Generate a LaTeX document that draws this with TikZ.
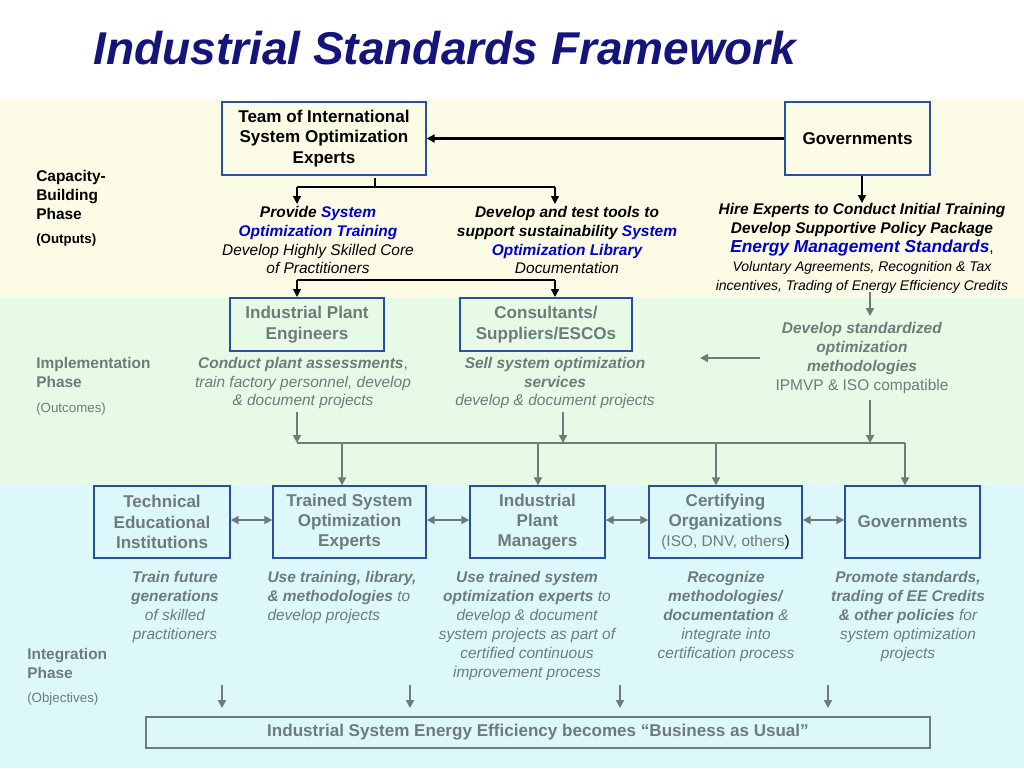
\documentclass[tikz,border=0pt]{standalone}
\usepackage{fontspec}
\setmainfont{Liberation Sans}
\usetikzlibrary{arrows.meta}
\definecolor{tgrey}{HTML}{6E7B7B}
\definecolor{bblue}{HTML}{2850A0}
\definecolor{hblue}{HTML}{0000CC}
\definecolor{navy}{HTML}{14147A}
\definecolor{byel}{HTML}{FCFCE6}
\definecolor{bgrn}{HTML}{E6FAE6}
\definecolor{bcyan}{HTML}{DDF8FB}
\newcommand{\tl}{\fontsize{11.6}{14.2}\selectfont}
\newcommand{\bl}{\fontsize{12.8}{15.2}\selectfont}
\tikzset{
 box/.style={draw=bblue,line width=1pt,fill=none,align=center,font=\bl\bfseries,text=tgrey,inner sep=1pt},
 tbox/.style={box,text=black},
 txt/.style={align=center,font=\tl,text=tgrey,inner sep=0pt},
 ktxt/.style={txt,text=black},
 lbl/.style={align=left,anchor=north west,font=\tl,text=tgrey,inner sep=0pt},
 ga/.style={draw=tgrey,line width=1.3pt,-{Triangle[length=6pt,width=6pt]}},
 gl/.style={draw=tgrey,line width=1.3pt},
 ka/.style={draw=black,line width=1pt,-{Triangle[length=6pt,width=6pt]}},
 kl/.style={draw=black,line width=1pt},
 da/.style={draw=tgrey,line width=1.3pt,{Triangle[length=6pt,width=6pt]}-{Triangle[length=6pt,width=6pt]}}
}
\begin{document}
\begin{tikzpicture}[x=0.75pt,y=-0.75pt]
\useasboundingbox (0,0) rectangle (1024,768);
\fill[white] (0,0) rectangle (1024,768);
\fill[byel] (0,100) rectangle (1024,298);
\fill[bgrn] (0,298) rectangle (1024,485);
\fill[bcyan] (0,485) rectangle (1024,768);
\node[font=\fontsize{34.5}{38}\selectfont\bfseries\itshape,text=navy] (title) at (445,48) {Industrial Standards Framework};
% top
\node[tbox,minimum width=204*0.75pt,minimum height=73*0.75pt] (team) at (324,138.5) {Team of International\\System Optimization\\Experts};
\node[tbox,minimum width=145*0.75pt,minimum height=73*0.75pt] (gov1) at (857.5,138.5) {Governments};
\draw[ka,line width=1.6pt] (gov1.west) -- (team.east|-gov1.west);
\node[lbl,text=black,font=\tl\bfseries] (cb) at (36,170) {Capacity-\\Building\\Phase};
\node[lbl,text=black,font=\fontsize{10}{12}\selectfont\bfseries] (outp) at (36,234) {(Outputs)};
\coordinate (t0) at (375,178);
\coordinate (t1) at (297,187);
\coordinate (t2) at (555,187);
\node[ktxt] (c1) at (318,240) {\textbf{\itshape Provide \textcolor{hblue}{System}}\\\textbf{\itshape\textcolor{hblue}{Optimization Training}}\\\itshape Develop Highly Skilled Core\\\itshape of Practitioners};
\node[ktxt] (c2) at (567,240) {\textbf{\itshape Develop and test tools to}\\\textbf{\itshape support sustainability \textcolor{hblue}{System}}\\\textbf{\itshape\textcolor{hblue}{Optimization Library}}\\\itshape Documentation};
\node[ktxt] (c3) at (862,248) {\textbf{\itshape Hire Experts to Conduct Initial Training}\\\textbf{\itshape Develop Supportive Policy Package}\\{\fontsize{13}{14.2}\selectfont\bfseries\itshape\textcolor{hblue}{Energy Management Standards}},\\{\fontsize{10.5}{14.2}\selectfont\itshape Voluntary Agreements, Recognition \& Tax}\\{\fontsize{10.5}{14.2}\selectfont\itshape incentives, Trading of Energy Efficiency Credits}};
\draw[kl] (t0) -- (375,187);
\draw[kl] (t1) -- (t2);
\draw[ka] (t1) -- (297,204);
\draw[ka] (t2) -- (555,204);
\draw[ka] (gov1.south-|862,0) -- (862,203);
% implementation
\node[box,minimum width=154*0.75pt,minimum height=53*0.75pt] (ipe) at (307,324.5) {Industrial Plant\\Engineers};
\node[box,minimum width=172*0.75pt,minimum height=53*0.75pt] (cons) at (546,324.5) {Consultants/\\Suppliers/ESCOs};
\coordinate (m1) at (297,280);
\coordinate (m2) at (555,280);
\draw[kl] (m1) -- (m2);
\draw[ka] (m1) -- (297,297);
\draw[ka] (m2) -- (555,297);
\node[lbl,font=\tl\bfseries] (imp) at (36,357) {Implementation\\Phase};
\node[lbl,font=\fontsize{10}{12}\selectfont] (outc) at (36,403) {(Outcomes)};
\node[txt] (d1) at (303,383) {\textbf{\itshape Conduct plant assessments},\\\itshape train factory personnel, develop\\\itshape \& document projects};
\node[txt] (d2) at (555,383) {\textbf{\itshape Sell system optimization}\\\textbf{\itshape services}\\\itshape develop \& document projects};
\node[txt] (d3) at (862,358) {\textbf{\itshape Develop standardized}\\\textbf{\itshape optimization}\\\textbf{\itshape methodologies}\\IPMVP \& ISO compatible};
\coordinate (r0) at (870,292);
\draw[ga] (r0) -- (870,316);
\coordinate (la) at (760,358);
\draw[ga] (la) -- (700,358);
\coordinate (h1) at (297,443);
\coordinate (h2) at (905,443);
\draw[ga] (297,412) -- (h1);
\draw[ga] (563,412) -- (563,443);
\draw[ga] (870,400) -- (870,443);
\draw[gl] (h1) -- (h2);
% integration boxes
\node[box,minimum width=136*0.75pt,minimum height=72*0.75pt] (tech) at (162,522) {Technical\\Educational\\Institutions};
\node[box,minimum width=153*0.75pt,minimum height=72*0.75pt] (trn) at (349.5,522) {Trained System\\Optimization\\Experts};
\node[box,minimum width=135*0.75pt,minimum height=72*0.75pt] (ipm) at (537.5,522) {Industrial\\Plant\\Managers};
\node[box,minimum width=153*0.75pt,minimum height=72*0.75pt] (cert) at (725.5,522) {Certifying\\Organizations\\{\mdseries\tl (ISO, DNV, others\textcolor{black}{)}}};
\node[box,minimum width=135*0.75pt,minimum height=72*0.75pt] (gov2) at (912.5,522) {Governments};
\draw[ga] (342,443) -- (trn.north-|342,0);
\draw[ga] (538,443) -- (ipm.north-|538,0);
\draw[ga] (716,443) -- (cert.north-|716,0);
\draw[ga] (905,443) -- (gov2.north-|905,0);
\draw[da] (tech.east|-0,520) -- (trn.west|-0,520);
\draw[da] (trn.east|-0,520) -- (ipm.west|-0,520);
\draw[da] (ipm.east|-0,520) -- (cert.west|-0,520);
\draw[da] (cert.east|-0,520) -- (gov2.west|-0,520);
\node[txt,anchor=north] (e1) at (175,571) {\textbf{\itshape Train future}\\\textbf{\itshape generations}\\\itshape of skilled\\\itshape practitioners};
\node[txt,anchor=north,align=left] (e2) at (342,571) {\textbf{\itshape Use training, library,}\\\textbf{\itshape \& methodologies} \itshape to\\\itshape develop projects};
\node[txt,anchor=north] (e3) at (527,571) {\textbf{\itshape Use trained system}\\\textbf{\itshape optimization experts} \itshape to\\\itshape develop \& document\\\itshape system projects as part of\\\itshape certified continuous\\\itshape improvement process};
\node[txt,anchor=north] (e4) at (726,571) {\textbf{\itshape Recognize}\\\textbf{\itshape methodologies/}\\\textbf{\itshape documentation} \itshape \&\\\itshape integrate into\\\itshape certification process};
\node[txt,anchor=north] (e5) at (908,571) {\textbf{\itshape Promote standards,}\\\textbf{\itshape trading of EE Credits}\\\textbf{\itshape \& other policies} \itshape for\\\itshape system optimization\\\itshape projects};
\node[lbl,font=\tl\bfseries] (intg) at (27,648) {Integration\\Phase};
\node[lbl,font=\fontsize{10}{12}\selectfont] (obj) at (27,693) {(Objectives)};
\node[box,draw=tgrey,minimum width=784*0.75pt,minimum height=31*0.75pt,inner sep=0pt] (fin) at (538,732.5) {Industrial System Energy Efficiency becomes “Business as Usual”};
\draw[ga] (222,685) -- (222,708);
\draw[ga] (410,685) -- (410,708);
\draw[ga] (620,685) -- (620,708);
\draw[ga] (828,685) -- (828,708);
\end{tikzpicture}
\end{document}
